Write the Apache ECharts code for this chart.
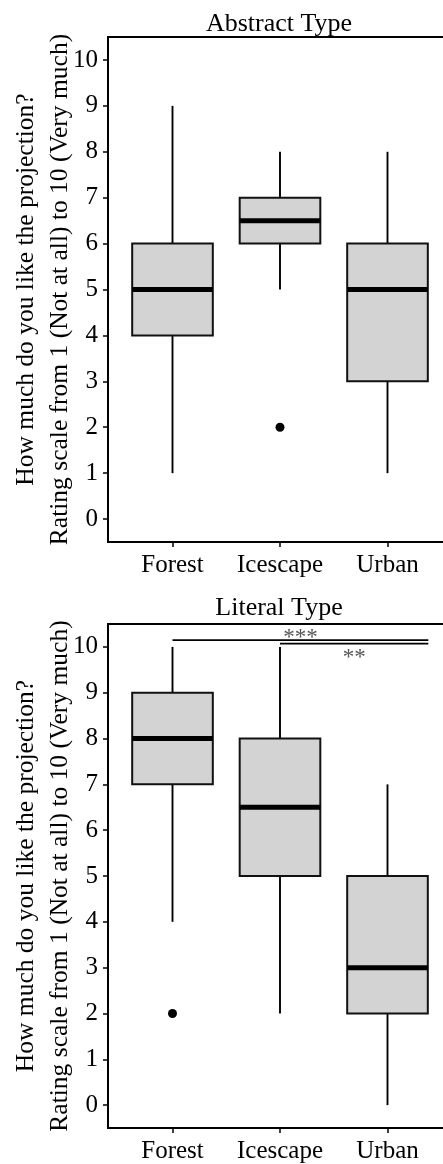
<!DOCTYPE html>
<html>
<head>
<meta charset="utf-8">
<script src="https://cdn.jsdelivr.net/npm/echarts@6/dist/echarts.min.js"></script>
<style>
html,body{margin:0;padding:0;background:#fff;overflow:hidden;}
#chart{width:460px;height:1164px;}
</style>
</head>
<body>
<div id="chart"></div>
<script>
// ---- data ----
const categories = ['Forest', 'Icescape', 'Urban'];
const yTicks = [0, 1, 2, 3, 4, 5, 6, 7, 8, 9, 10];
const panelTitles = ['Abstract Type', 'Literal Type'];
const yTitle = 'How much do you like the projection?\nRating scale from 1 (Not at all) to 10 (Very much)';
// [min, Q1, median, Q3, max]
const abstractBoxes = [[1, 4, 5, 6, 9], [5, 6, 6.5, 7, 8], [1, 3, 5, 6, 8]];
const abstractOutliers = [[1, 2]];   // [category index, value]
const literalBoxes = [[4, 7, 8, 9, 10], [2, 5, 6.5, 8, 10], [0, 2, 3, 5, 7]];
const literalOutliers = [[0, 2]];
// significance brackets (literal panel)
const sigLabels = ['***', '**'];
const sigFrom = [0, 1];
const sigTo = [2.38, 2.38];
const sigLevel = [10.15, 10.07];

const FONT = 'Liberation Serif';
const chart = echarts.init(document.getElementById('chart'));

function renderBox(params, api) {
  const x = api.value(0);
  const pLo = api.coord([x, api.value(1)]);
  const pQ1 = api.coord([x, api.value(2)]);
  const pMed = api.coord([x, api.value(3)]);
  const pQ3 = api.coord([x, api.value(4)]);
  const pHi = api.coord([x, api.value(5)]);
  const half = api.size([0.75, 0])[0] / 2;
  return {
    type: 'group',
    children: [
      {type: 'line', shape: {x1: pHi[0], y1: pHi[1], x2: pQ3[0], y2: pQ3[1]}, style: {stroke: '#000', lineWidth: 1.9}},
      {type: 'line', shape: {x1: pQ1[0], y1: pQ1[1], x2: pLo[0], y2: pLo[1]}, style: {stroke: '#000', lineWidth: 1.9}},
      {type: 'rect', shape: {x: pQ3[0] - half, y: pQ3[1], width: half * 2, height: pQ1[1] - pQ3[1]},
        style: {fill: '#d3d3d3', stroke: '#111', lineWidth: 2}},
      {type: 'line', shape: {x1: pMed[0] - half, y1: pMed[1], x2: pMed[0] + half, y2: pMed[1]},
        style: {stroke: '#000', lineWidth: 5}}
    ]
  };
}

function renderSig(params, api) {
  const from = api.value(0), to = api.value(1), lvl = api.value(2), idx = api.value(3);
  const a = api.coord([from, lvl]);
  const b = api.coord([to, lvl]);
  const above = idx === 0;
  return {
    type: 'group',
    children: [
      {type: 'line', shape: {x1: a[0], y1: a[1], x2: b[0], y2: b[1]}, style: {stroke: '#000', lineWidth: 1.8}},
      {type: 'text', x: (a[0] + b[0]) / 2, y: above ? a[1] + 9 : a[1] + 3,
        style: {text: sigLabels[idx], textAlign: 'center', textVerticalAlign: above ? 'bottom' : 'top',
          fill: '#555', font: '23px "' + FONT + '"'}}
    ]
  };
}

function xAxisCfg(gi) {
  return {
    type: 'value', gridIndex: gi, min: -0.6, max: 2.6,
    axisLine: {show: true, onZero: false, lineStyle: {color: '#000', width: 2}},
    axisTick: {show: true, customValues: [0, 1, 2], length: 5, lineStyle: {color: '#000', width: 1.5}},
    axisLabel: {customValues: [0, 1, 2], formatter: v => categories[Math.round(v)] || '',
      color: '#000', fontFamily: FONT, fontSize: 25, margin: 11},
    splitLine: {show: false}
  };
}
function yAxisCfg(gi) {
  return {
    type: 'value', gridIndex: gi, min: -0.5, max: 10.5,
    name: yTitle, nameLocation: 'middle', nameRotate: 90, nameGap: 31, nameMoveOverlap: false,
    nameTextStyle: {fontFamily: FONT, fontSize: 25.5, color: '#000', lineHeight: 34},
    axisLine: {show: true, onZero: false, lineStyle: {color: '#000', width: 2}},
    axisTick: {show: true, customValues: yTicks, length: 5, lineStyle: {color: '#000', width: 1.5}},
    axisLabel: {customValues: yTicks, color: '#000', fontFamily: FONT, fontSize: 25, margin: 10},
    splitLine: {show: false}
  };
}

const boxData = (boxes) => boxes.map((b, i) => [i].concat(b));
const sigData = sigLabels.map((s, i) => [sigFrom[i], sigTo[i], sigLevel[i], i]);

chart.setOption({
  animation: false,
  backgroundColor: '#fff',
  title: [
    {text: panelTitles[0], left: 274, top: 6, textAlign: 'center',
      textStyle: {fontFamily: FONT, fontSize: 26, fontWeight: 'normal', color: '#000'}},
    {text: panelTitles[1], left: 274, top: 590, textAlign: 'center',
      textStyle: {fontFamily: FONT, fontSize: 26, fontWeight: 'normal', color: '#000'}}
  ],
  grid: [
    {left: 108, width: 344, top: 37, height: 505, outerBoundsMode: 'none', containLabel: false,
      show: true, borderColor: '#000', borderWidth: 2, backgroundColor: 'transparent'},
    {left: 108, width: 344, top: 624, height: 504, outerBoundsMode: 'none', containLabel: false,
      show: true, borderColor: '#000', borderWidth: 2, backgroundColor: 'transparent'}
  ],
  xAxis: [xAxisCfg(0), xAxisCfg(1)],
  yAxis: [yAxisCfg(0), yAxisCfg(1)],
  series: [
    {type: 'custom', xAxisIndex: 0, yAxisIndex: 0, renderItem: renderBox, data: boxData(abstractBoxes),
      encode: {x: 0, y: [1, 2, 3, 4, 5]}, clip: false},
    {type: 'scatter', xAxisIndex: 0, yAxisIndex: 0, data: abstractOutliers, symbolSize: 9,
      itemStyle: {color: '#000', opacity: 1}},
    {type: 'custom', xAxisIndex: 1, yAxisIndex: 1, renderItem: renderBox, data: boxData(literalBoxes),
      encode: {x: 0, y: [1, 2, 3, 4, 5]}, clip: false},
    {type: 'scatter', xAxisIndex: 1, yAxisIndex: 1, data: literalOutliers, symbolSize: 9,
      itemStyle: {color: '#000', opacity: 1}},
    {type: 'custom', xAxisIndex: 1, yAxisIndex: 1, renderItem: renderSig, data: sigData,
      encode: {x: [0, 1], y: 2}, clip: false}
  ]
});
</script>
</body>
</html>
